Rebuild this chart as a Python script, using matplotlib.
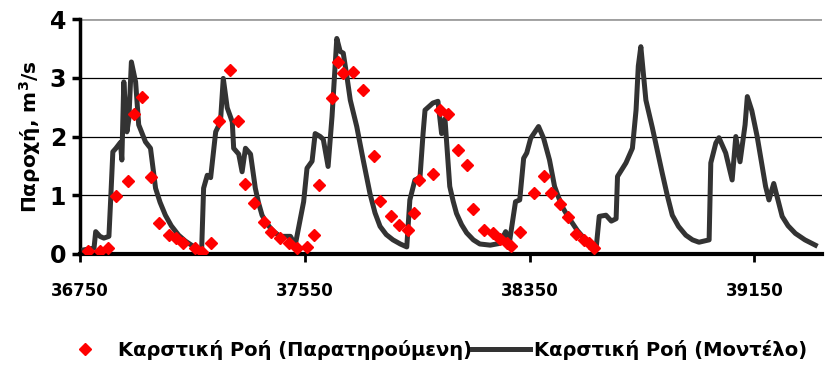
import matplotlib
matplotlib.use("Agg")
import matplotlib.pyplot as plt

# Παρατηρούμενη καρστική ροή (ημέρα, m3/s)
obs_day = [36779, 36820, 36850, 36879, 36921, 36944, 36971, 37003, 37033, 37066,
           37092, 37115, 37158, 37185, 37215, 37244, 37283, 37313, 37339, 37368,
           37404, 37431, 37463, 37493, 37522, 37558, 37584, 37599, 37647, 37670,
           37686, 37721, 37757, 37797, 37816, 37856, 37886, 37918, 37939, 37957,
           38005, 38031, 38060, 38097, 38126, 38150, 38187, 38221, 38245, 38268,
           38285, 38316, 38366, 38401, 38426, 38459, 38487, 38516, 38544, 38561,
           38581]
obs_q = [0.05, 0.05, 0.10, 0.98, 1.25, 2.39, 2.68, 1.31, 0.52, 0.32,
         0.27, 0.18, 0.10, 0.04, 0.18, 2.26, 3.13, 2.26, 1.19, 0.86,
         0.55, 0.38, 0.27, 0.18, 0.10, 0.12, 0.32, 1.17, 2.65, 3.27,
         3.09, 3.10, 2.80, 1.66, 0.91, 0.65, 0.49, 0.41, 0.69, 1.26,
         1.36, 2.45, 2.38, 1.77, 1.51, 0.77, 0.41, 0.36, 0.25, 0.18,
         0.13, 0.37, 1.03, 1.33, 1.03, 0.85, 0.63, 0.34, 0.23, 0.18,
         0.11]

# Μοντέλο
mod_day = [36764, 36800, 36806, 36821, 36835, 36853, 36860, 36867, 36878, 36894,
           36899, 36906, 36917, 36924, 36933, 36948, 36959, 36983, 37001, 37019,
           37035, 37054, 37075, 37101, 37125, 37147, 37165, 37183,
           37190, 37203, 37215, 37233, 37250, 37260,
           37274, 37292, 37297, 37315, 37327, 37339, 37357, 37374, 37385, 37398,
           37412, 37428, 37445, 37463, 37499, 37516, 37534, 37546, 37558, 37576,
           37587, 37605, 37616, 37633, 37647, 37664, 37676, 37687, 37700, 37712,
           37735, 37758, 37782, 37800, 37818, 37840, 37864, 37890, 37913,
           37924, 37942, 37960, 37971, 37978, 38006, 38024,
           38037, 38049, 38066, 38078, 38090, 38108, 38126, 38150, 38173, 38210,
           38244, 38265, 38279, 38300,
           38315, 38329, 38340, 38354, 38382, 38400, 38421, 38439, 38452, 38467,
           38485, 38503, 38520, 38538, 38560, 38587, 38598, 38622, 38641, 38658,
           38663, 38693, 38716, 38729, 38737, 38746, 38764, 38787, 38805, 38822,
           38840, 38858, 38880, 38906, 38930, 38953, 38989, 38995,
           39013, 39024, 39048, 39071, 39084, 39099, 39117, 39125, 39141, 39160,
           39190, 39202, 39219, 39249, 39270, 39296, 39330, 39367]
mod_q = [0.07, 0.10, 0.38, 0.30, 0.27, 0.30, 1.00, 1.74, 1.80, 1.90,
         1.60, 2.93, 2.08, 2.30, 3.27, 2.93, 2.20, 1.91, 1.80, 1.12,
         0.88, 0.66, 0.48, 0.32, 0.22, 0.15, 0.10, 0.07,
         1.12, 1.34, 1.30, 2.08, 2.25, 2.99,
         2.49, 2.25, 1.80, 1.70, 1.40, 1.80, 1.70, 1.12, 0.88, 0.66,
         0.54, 0.44, 0.36, 0.30, 0.30, 0.15, 0.60, 0.89, 1.46, 1.58,
         2.05, 2.00, 1.95, 1.49, 2.34, 3.67, 3.45, 3.42, 3.02, 2.62,
         2.17, 1.60, 1.03, 0.70, 0.47, 0.33, 0.24, 0.17, 0.12,
         0.92, 1.26, 1.30, 2.05, 2.45, 2.57, 2.60,
         2.05, 2.30, 1.15, 0.90, 0.69, 0.50, 0.36, 0.24, 0.17, 0.15,
         0.18, 0.38, 0.22, 0.89,
         0.92, 1.63, 1.72, 1.97, 2.17, 1.97, 1.60, 1.15, 0.98, 0.80,
         0.65, 0.52, 0.40, 0.30, 0.20, 0.10, 0.64, 0.66, 0.56, 0.60,
         1.32, 1.55, 1.80, 2.45, 3.20, 3.53, 2.62, 2.15, 1.75, 1.38,
         1.00, 0.66, 0.47, 0.32, 0.24, 0.20, 0.24, 1.55,
         1.89, 1.98, 1.72, 1.26, 2.00, 1.57, 2.20, 2.68, 2.44, 2.00,
         1.15, 0.92, 1.20, 0.64, 0.48, 0.35, 0.24, 0.15]

xticks = [36750, 37550, 38350, 39150]
yticks = [0, 1, 2, 3, 4]

plt.rcParams['font.family'] = ['DejaVu Sans']
plt.rcParams['font.weight'] = 'bold'

fig = plt.figure(figsize=(8.27, 3.67), dpi=100)
ax = fig.add_axes([0.0967, 0.308, 0.897, 0.64])

ax.plot(mod_day, mod_q, color='#333333', lw=3.6, solid_joinstyle='round',
        label='Καρστική Ροή (Μοντέλο)', zorder=3)
ax.plot(obs_day, obs_q, 'D', color='red', ms=6.3, mec='red',
        label='Καρστική Ροή (Παρατηρούμενη)', zorder=4)

ax.set_xlim(36750, 39390)
ax.set_ylim(0, 4)
ax.set_xticks(xticks)
ax.set_yticks(yticks)
ax.tick_params(axis='y', labelsize=17, width=2.5, length=6, pad=4)
ax.tick_params(axis='x', labelsize=12, width=2, length=6, pad=14)
for lab in ax.get_xticklabels() + ax.get_yticklabels():
    lab.set_fontweight('bold')

ax.grid(axis='y', color='black', lw=0.9)
ax.set_axisbelow(True)
for s in ['top', 'right']:
    ax.spines[s].set_visible(False)
ax.spines['left'].set_linewidth(2.5)
ax.spines['bottom'].set_linewidth(3)
ax.axhline(4, color='#a0a0a0', lw=2, zorder=1)

ax.set_ylabel('Παροχή, m$^{\\mathbf{3}}$/s', fontsize=14.5, fontweight='bold', labelpad=5)

h, l = ax.get_legend_handles_labels()
fig.legend(h[::-1], l[::-1], loc='center', bbox_to_anchor=(0.522, 0.047), ncol=2,
           frameon=False, handlelength=3.0, handletextpad=0.2,
           columnspacing=0.0, prop={'weight': 'bold', 'size': 14})

fig.savefig('out.png', dpi=100)
